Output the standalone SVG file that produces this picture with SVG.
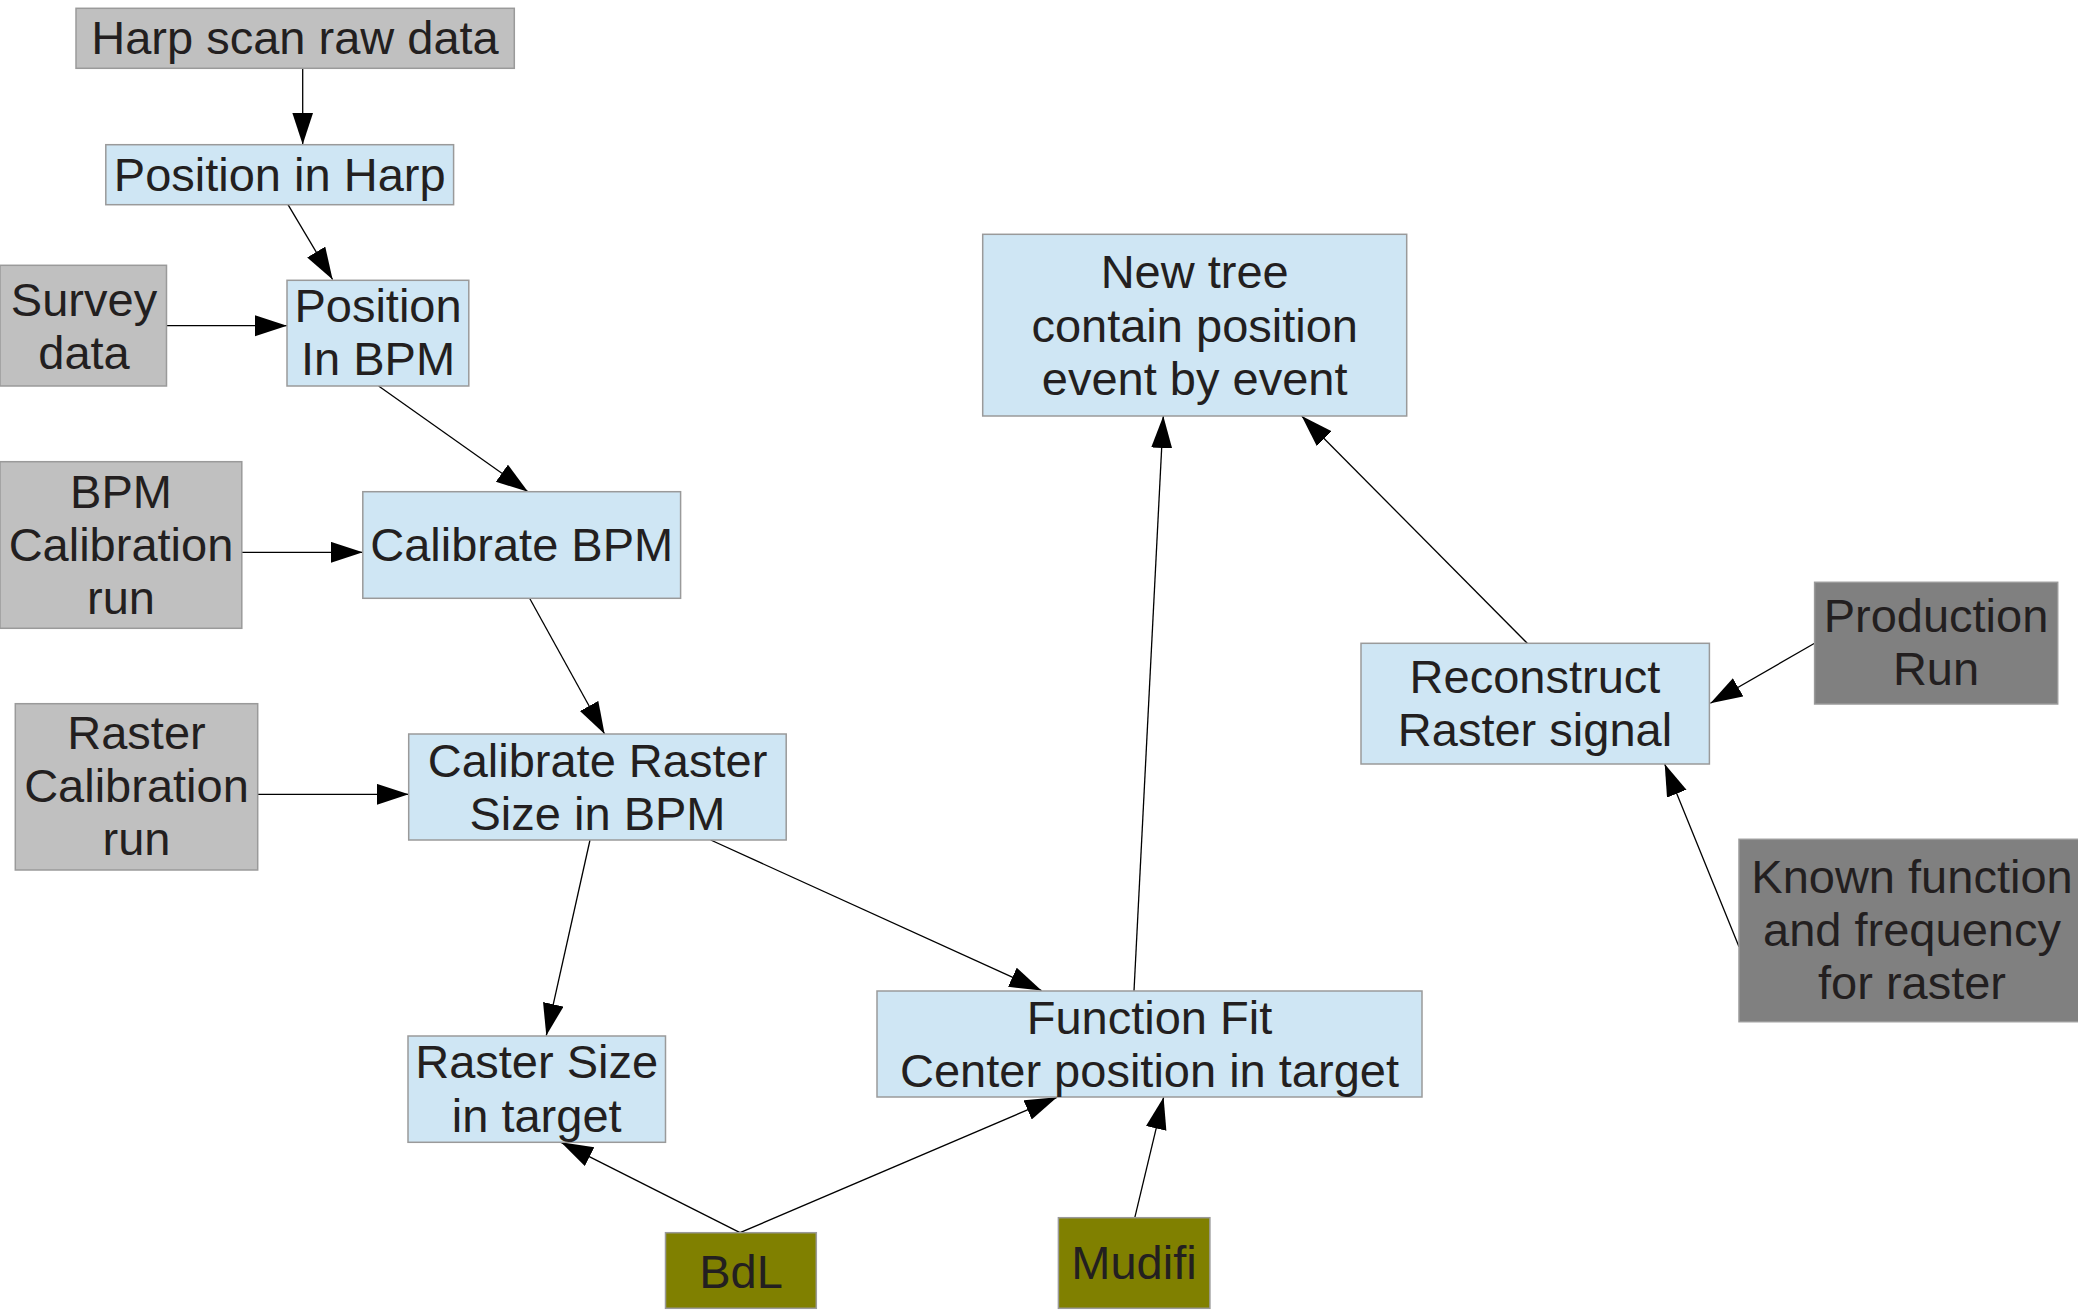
<svg xmlns="http://www.w3.org/2000/svg" width="2078" height="1310" viewBox="0 0 2078 1310">
<style>
rect{stroke:#9a9a9a;stroke-width:1.5}
.b{fill:#cfe6f4}
.g{fill:#c0c0c0}
.d{fill:#808080}
.o{fill:#808000}
text{font-family:"Liberation Sans",Arial,sans-serif;font-size:47px;fill:#231f20;text-anchor:middle}
.c line{stroke:#000;stroke-width:1.3;marker-end:url(#ah)}
</style>
<defs>
<marker id="ah" markerUnits="userSpaceOnUse" markerWidth="33" markerHeight="22" refX="32" refY="10.5" orient="auto" viewBox="0 0 33 22">
<path d="M0,0 L32,10.5 L0,21 z" fill="#000"/>
</marker>
</defs>
<rect width="2078" height="1310" fill="#fff" style="stroke:none"/>
<g class="c" id="connectors">
<line x1="302.7" y1="68.3" x2="302.7" y2="144.5"/>
<line x1="288" y1="204.7" x2="332.6" y2="279.5"/>
<line x1="166.5" y1="325.7" x2="287" y2="325.7"/>
<line x1="378.6" y1="386" x2="528" y2="491.7"/>
<line x1="241.8" y1="552.3" x2="362.8" y2="552.3"/>
<line x1="529.6" y1="598.3" x2="604.6" y2="734"/>
<line x1="257.7" y1="794.3" x2="408.7" y2="794.3"/>
<line x1="590" y1="840" x2="546.3" y2="1035.5"/>
<line x1="710.7" y1="840" x2="1041.5" y2="990.5"/>
<line x1="1134" y1="991" x2="1163.3" y2="416"/>
<line x1="1527.3" y1="643.3" x2="1301.7" y2="416"/>
<line x1="1814.6" y1="643.3" x2="1710.4" y2="703.3"/>
<line x1="1739" y1="946.7" x2="1664.7" y2="764"/>
<line x1="740" y1="1232.7" x2="561" y2="1142.3"/>
<line x1="740" y1="1232.7" x2="1057" y2="1097.3"/>
<line x1="1134.8" y1="1217.7" x2="1163.6" y2="1097.3"/>
</g>
<g id="harp-scan"><rect class="g" x="76" y="8.3" width="438.3" height="60"/><text x="295" y="54">Harp scan raw data</text></g>
<g id="position-in-harp"><rect class="b" x="105.8" y="144.7" width="347.8" height="60"/><text x="279.7" y="191">Position in Harp</text></g>
<g id="survey-data"><rect class="g" x="0" y="265.3" width="166.5" height="120.7"/><text x="84" y="315.5">Survey</text><text x="84" y="368.5">data</text></g>
<g id="position-in-bpm"><rect class="b" x="287" y="280.3" width="181.8" height="105.7"/><text x="378" y="322">Position</text><text x="378" y="375">In BPM</text></g>
<g id="bpm-calibration-run"><rect class="g" x="0" y="461.7" width="241.8" height="166.6"/><text x="121" y="508">BPM</text><text x="121" y="561">Calibration</text><text x="121" y="614">run</text></g>
<g id="calibrate-bpm"><rect class="b" x="362.8" y="491.7" width="317.8" height="106.6"/><text x="521.7" y="561">Calibrate BPM</text></g>
<g id="raster-calibration-run"><rect class="g" x="15.3" y="703.7" width="242.4" height="166.3"/><text x="136.5" y="749">Raster</text><text x="136.5" y="802">Calibration</text><text x="136.5" y="855">run</text></g>
<g id="calibrate-raster"><rect class="b" x="408.7" y="734" width="377.5" height="106"/><text x="597.5" y="777">Calibrate Raster</text><text x="597.5" y="830">Size in BPM</text></g>
<g id="raster-size-target"><rect class="b" x="408" y="1036" width="257.5" height="106.3"/><text x="536.7" y="1078">Raster Size</text><text x="536.7" y="1132">in target</text></g>
<g id="function-fit"><rect class="b" x="877" y="991" width="545" height="106"/><text x="1149.5" y="1034">Function Fit</text><text x="1149.5" y="1087">Center position in target</text></g>
<g id="bdl"><rect class="o" x="665.5" y="1232.7" width="150.8" height="75.6"/><text x="741" y="1288">BdL</text></g>
<g id="mudifi"><rect class="o" x="1058.4" y="1217.7" width="151.5" height="90.6"/><text x="1134" y="1279">Mudifi</text></g>
<g id="new-tree"><rect class="b" x="982.7" y="234.3" width="424" height="181.7"/><text x="1194.7" y="288">New tree</text><text x="1194.7" y="342">contain position</text><text x="1194.7" y="395">event by event</text></g>
<g id="reconstruct"><rect class="b" x="1361" y="643.3" width="348.4" height="120.7"/><text x="1535" y="693">Reconstruct</text><text x="1535" y="746">Raster signal</text></g>
<g id="production-run"><rect class="d" x="1814.6" y="582.3" width="243.1" height="121.7"/><text x="1936" y="632">Production</text><text x="1936" y="685">Run</text></g>
<g id="known-function"><rect class="d" x="1739" y="839.3" width="347" height="182.4"/><text x="1912" y="893">Known function</text><text x="1912" y="946">and frequency</text><text x="1912" y="999">for raster</text></g>
</svg>
